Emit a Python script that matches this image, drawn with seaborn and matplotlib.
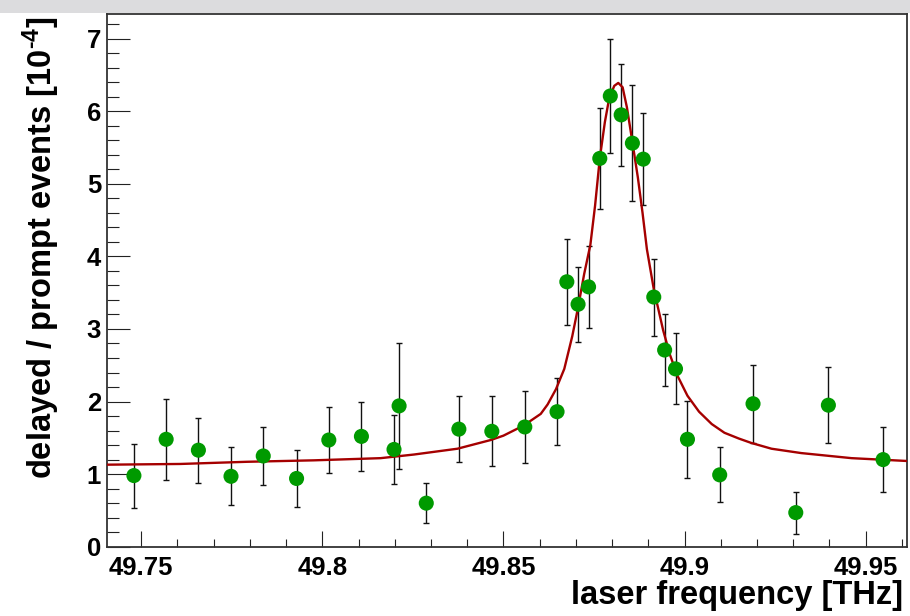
import numpy as np
import pandas as pd
import matplotlib
matplotlib.use('Agg')
import matplotlib.pyplot as plt
from matplotlib.ticker import MultipleLocator, FixedLocator, FixedFormatter
from matplotlib.patches import Rectangle
import seaborn as sns

# ---- data ----
freq = [49.7480, 49.7569, 49.7658, 49.7748, 49.7837, 49.7929, 49.8018, 49.8108,
        49.8198, 49.8212, 49.8287, 49.8377, 49.8468, 49.8559, 49.8648, 49.8675,
        49.8706, 49.8735, 49.8766, 49.8795, 49.8825, 49.8856, 49.8886, 49.8915,
        49.8945, 49.8975, 49.9008, 49.9097, 49.9189, 49.9307, 49.9397, 49.9548]
ratio = [0.98, 1.48, 1.33, 0.97, 1.25, 0.94, 1.47, 1.52,
         1.34, 1.94, 0.60, 1.62, 1.59, 1.65, 1.86, 3.65,
         3.34, 3.58, 5.35, 6.21, 5.95, 5.56, 5.34, 3.44,
         2.71, 2.45, 1.48, 0.99, 1.97, 0.47, 1.95, 1.20]
ratio_err = [0.44, 0.56, 0.45, 0.40, 0.40, 0.39, 0.45, 0.48,
             0.47, 0.87, 0.28, 0.45, 0.48, 0.49, 0.46, 0.59,
             0.52, 0.56, 0.70, 0.79, 0.70, 0.80, 0.63, 0.53,
             0.49, 0.49, 0.53, 0.38, 0.54, 0.29, 0.52, 0.45]

# fit curve
fit_freq = [49.7405, 49.7608, 49.7792, 49.7977, 49.8161, 49.8253, 49.8373, 49.8465,
            49.8500, 49.8556, 49.8603, 49.8622, 49.8645, 49.8668, 49.8690, 49.8705,
            49.8723, 49.8740, 49.8753, 49.8766, 49.8780, 49.8792, 49.8806, 49.8817,
            49.8829, 49.8841, 49.8854, 49.8871, 49.8884, 49.8896, 49.8915, 49.8941,
            49.8960, 49.8981, 49.9008, 49.9040, 49.9075, 49.9110, 49.9150, 49.9184,
            49.9240, 49.9322, 49.9461, 49.9618]
fit_ratio = [1.13, 1.14, 1.17, 1.19, 1.22, 1.27, 1.35, 1.47,
             1.53, 1.67, 1.83, 1.96, 2.17, 2.45, 2.90, 3.27,
             3.76, 4.16, 4.70, 5.35, 5.85, 6.18, 6.35, 6.39,
             6.33, 6.05, 5.64, 5.09, 4.60, 4.10, 3.55, 2.98,
             2.64, 2.35, 2.08, 1.86, 1.69, 1.57, 1.49, 1.43,
             1.35, 1.29, 1.22, 1.18]

x_ticks = [49.75, 49.80, 49.85, 49.90, 49.95]
x_tick_labels = ['49.75', '49.8', '49.85', '49.9', '49.95']
y_ticks = [0, 1, 2, 3, 4, 5, 6, 7]
y_tick_labels = ['0', '1', '2', '3', '4', '5', '6', '7']
x_label = 'laser frequency [THz]'
y_label = r'delayed / prompt events [10$^{\text{-4}}$]'

points = pd.DataFrame({'freq': freq, 'ratio': ratio, 'err': ratio_err})
fit = pd.DataFrame({'freq': fit_freq, 'ratio': fit_ratio})

# ---- style ----
sns.set_style('white')
plt.rcParams['font.family'] = ['Liberation Sans', 'DejaVu Sans']
plt.rcParams['font.weight'] = 'bold'
plt.rcParams['text.color'] = 'black'
plt.rcParams['axes.labelcolor'] = 'black'
plt.rcParams['xtick.labelcolor'] = 'black'
plt.rcParams['ytick.labelcolor'] = 'black'
plt.rcParams['mathtext.fontset'] = 'custom'
plt.rcParams['mathtext.rm'] = 'Liberation Sans:bold'
plt.rcParams['mathtext.it'] = 'Liberation Sans:bold'
plt.rcParams['mathtext.bf'] = 'Liberation Sans:bold'
plt.rcParams['mathtext.default'] = 'rm'

fig = plt.figure(figsize=(9.1, 6.16), dpi=100)
fig.patches.append(Rectangle((0, 1 - 13 / 616), 1, 13 / 616, transform=fig.transFigure,
                             facecolor='#dcdcde', edgecolor='none', zorder=-5))
ax = fig.add_axes([0.1173, 0.1125, 0.879, 0.8648])

ax.errorbar(points['freq'], points['ratio'], yerr=points['err'], fmt='none',
            ecolor='#111111', elinewidth=1.0, capsize=2.4, capthick=1.0, zorder=2)
sns.lineplot(data=fit, x='freq', y='ratio', ax=ax, color='#a50000', lw=1.7,
             sort=False, estimator=None, zorder=3)
sns.scatterplot(data=points, x='freq', y='ratio', ax=ax, color='#009a00', s=118,
                edgecolor='none', linewidth=0, zorder=4)

ax.set_xlim(49.7405, 49.9613)
ax.set_ylim(0, 7.34)

ax.xaxis.set_major_locator(FixedLocator(x_ticks))
ax.xaxis.set_major_formatter(FixedFormatter(x_tick_labels))
ax.xaxis.set_minor_locator(MultipleLocator(0.01))
ax.yaxis.set_major_locator(FixedLocator(y_ticks))
ax.yaxis.set_major_formatter(FixedFormatter(y_tick_labels))
ax.yaxis.set_minor_locator(MultipleLocator(0.2))

ax.tick_params(axis='both', which='both', direction='in', color='#222222', width=0.8,
               labelcolor='black', bottom=True, left=True, top=False, right=False)
ax.tick_params(axis='x', which='major', length=11.5, pad=7, labelsize=18.5)
ax.tick_params(axis='x', which='minor', length=5.8)
ax.tick_params(axis='y', which='major', length=16.5, pad=4, labelsize=18.5)
ax.tick_params(axis='y', which='minor', length=8.6)
for lab in ax.get_xticklabels() + ax.get_yticklabels():
    lab.set_fontweight('bold')

for sp in ax.spines.values():
    sp.set_color('#333333')
    sp.set_linewidth(1.3)

ax.set_xlabel(x_label, fontsize=23.5, fontweight='bold', loc='right', color='black')
ax.xaxis.set_label_coords(0.995, -0.062)
ax.set_ylabel(y_label, fontsize=23.5, fontweight='bold', loc='top', color='black')
ax.yaxis.set_label_coords(-0.056, 0.995)

fig.savefig('out.png', dpi=100)
